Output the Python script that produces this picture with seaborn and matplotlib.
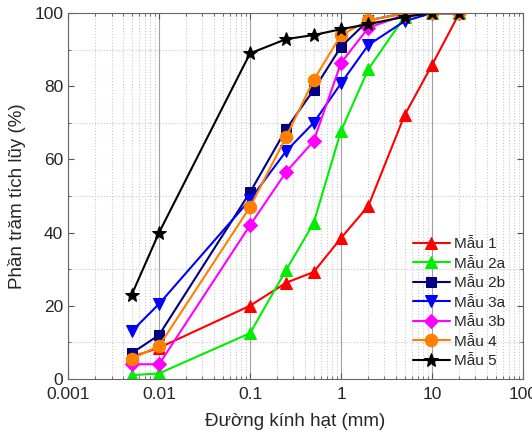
"""Particle size distribution curves (cumulative passing)."""

import matplotlib
matplotlib.use("Agg")
import matplotlib.pyplot as plt
import matplotlib.ticker as mticker
import numpy as np
import pandas as pd
import seaborn as sns

# grain diameter (mm)
diameter = [0.005, 0.01, 0.1, 0.25, 0.5, 1, 2, 5, 10, 20]

mau_1 = [6, 8.5, 20, 26.3, 29.2, 38.5, 47.3, 72.1, 85.8, 100]
mau_2a = [1, 1.5, 12.5, 29.8, 42.6, 67.8, 84.7, 99, 100, 100]
mau_2b = [7, 12, 51, 68.3, 79, 90.8, 98, 100, 100, 100]
mau_3a = [13, 20.5, 49, 62.3, 70, 80.8, 91.3, 97.8, 100, 100]
mau_3b = [4, 4, 42, 56.6, 65, 86.4, 96, 99.5, 100, 100]
mau_4 = [5.5, 9, 47, 66.2, 81.7, 94, 98, 100, 100, 100]
mau_5 = [23, 40, 89, 92.9, 94, 95.6, 97, 99, 100, 100]

series_names = ["Mẫu 1", "Mẫu 2a", "Mẫu 2b", "Mẫu 3a", "Mẫu 3b", "Mẫu 4", "Mẫu 5"]
series_values = [mau_1, mau_2a, mau_2b, mau_3a, mau_3b, mau_4, mau_5]
colors = ["#FF0000", "#00EE00", "#000080", "#0000FF", "#FF00FF", "#FF8000", "#000000"]
markers = ["^", "^", "s", "v", "D", "o", "*"]
marker_sizes = [9, 9, 7.5, 9, 7, 9, 10]

x_ticks = [0.001, 0.01, 0.1, 1, 10, 100]
x_tick_labels = ["0.001", "0.01", "0.1", "1", "10", "100"]

df = pd.DataFrame({
    "diameter": diameter * len(series_names),
    "passing": np.concatenate(series_values),
    "sample": np.repeat(series_names, len(diameter)),
})

sns.set_style("ticks")
plt.rcParams["font.family"] = ["Liberation Sans", "DejaVu Sans"]

fig = plt.figure(figsize=(5.32, 4.37), dpi=100)
ax = fig.add_axes([0.128, 0.133, 0.855, 0.837])

for name, color, marker, ms in zip(series_names, colors, markers, marker_sizes):
    sub = df[df["sample"] == name]
    sns.lineplot(data=sub, x="diameter", y="passing", ax=ax, color=color,
                 marker=marker, markersize=ms, markeredgecolor=color,
                 linewidth=1.5, label=name)

ax.set_xscale("log")
ax.set_xlim(0.001, 100)
ax.set_ylim(0, 100)
ax.set_xticks(x_ticks)
ax.set_xticklabels(x_tick_labels)
ax.xaxis.set_minor_locator(mticker.LogLocator(base=10, subs=np.arange(2, 10)))
ax.xaxis.set_minor_formatter(mticker.NullFormatter())
ax.yaxis.set_major_locator(mticker.MultipleLocator(20))
ax.yaxis.set_minor_locator(mticker.MultipleLocator(10))

ax.grid(True, which="major", axis="x", color="#a0a0a0", linewidth=0.8)
ax.grid(True, which="minor", axis="x", color="#c8c8c8", linestyle=":", linewidth=0.8)
ax.grid(True, which="minor", axis="y", color="#c8c8c8", linestyle=":", linewidth=0.8)

ax.tick_params(which="both", direction="in", top=True, right=True, labelsize=12.5,
               color="#555555")
ax.tick_params(axis="x", which="major", pad=6)
ax.tick_params(which="major", length=4)
ax.tick_params(which="minor", length=2)
for spine in ax.spines.values():
    spine.set_color("#666666")

ax.set_xlabel("Đường kính hạt (mm)", fontsize=13.5, labelpad=8)
ax.set_ylabel("Phần trăm tích lũy (%)", fontsize=13.5, labelpad=6)

ax.legend(loc="lower right", bbox_to_anchor=(0.985, 0.0), frameon=False,
          fontsize=11, handlelength=2.4, handletextpad=0.3, labelspacing=0.36,
          borderaxespad=0.3)

fig.savefig("out.png", dpi=100)
plt.close(fig)
